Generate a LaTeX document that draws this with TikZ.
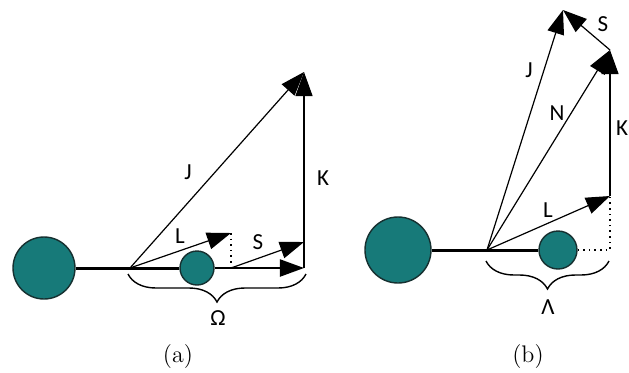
\documentclass[tikz,border=0pt]{standalone}
\usepackage{fontspec}
\newfontfamily\lblfont{Carlito}
\usepackage{xcolor}
\definecolor{mTeal}{HTML}{177A79}
\definecolor{mEdge}{HTML}{163030}
\usetikzlibrary{arrows.meta, decorations.pathreplacing}

\begin{document}
\begin{tikzpicture}[
  x=0.5pt, y=-0.5pt,
  lbl/.style={font=\lblfont\fontsize{11.5}{13}\selectfont, inner sep=0pt},
  subcap/.style={font=\fontsize{12}{14}\selectfont, inner sep=0pt},
  atom/.style={circle, draw=mEdge, line width=0.7pt, fill=mTeal, inner sep=0pt},
  bond/.style={line width=1.5pt},
  vec/.style={-{Triangle[length=12pt, width=8.5pt]}, line width=0.6pt},
  proj/.style={dotted, line width=0.8pt},
  brc/.style={decorate, decoration={brace, amplitude=14pt, mirror}, line width=0.7pt}
]
\useasboundingbox (0,0) rectangle (629,372);
% (a)
\node[atom, minimum size=31pt] (bigA) at (44,268) {};
\node[atom, minimum size=17pt] (smallA) at (197,268) {};
\coordinate (oA) at (130,268);
\coordinate (lA) at (231,233);
\coordinate (fA) at (231,268);
\coordinate (omA) at (304,268);
\coordinate (sA) at (304,242);
\coordinate (kA) at (304,72);
\draw[bond] (bigA.east) -- (oA) -- (smallA.west);
\draw[vec, line width=1pt] (smallA.east) -- (omA);
\draw[vec] (oA) -- (lA);
\draw[proj] (lA) -- (fA);
\draw[vec] (fA) -- (sA);
\draw[vec] (omA) -- (kA);
\draw[vec] (oA) -- (kA);
\draw[brc] (128,274) -- (306,274);
\node[lbl] (lblJa) at (188,172) {J};
\node[lbl] (lblKa) at (323,178) {K};
\node[lbl] (lblLa) at (180,236) {L};
\node[lbl] (lblSa) at (258,242) {S};
\node[lbl] (lblOm) at (218,318) {Ω};
\node[subcap] (capA) at (178,357) {(a)};
% (b)
\node[atom, minimum size=33pt] (bigB) at (398,250) {};
\node[atom, minimum size=19pt] (smallB) at (558,250) {};
\coordinate (oB) at (487,250);
\coordinate (dB) at (610,250);
\coordinate (lB) at (610,196);
\coordinate (kB) at (610,50);
\coordinate (jB) at (563,10);
\draw[bond] (bigB.east) -- (oB) -- (smallB.west);
\draw[proj] (smallB.east) -- (dB) -- (lB);
\draw[vec] (oB) -- (lB);
\draw[vec] (lB) -- (kB);
\draw[vec] (oB) -- (kB);
\draw[vec] (kB) -- (jB);
\draw[vec] (oB) -- (jB);
\draw[brc] (486,261) -- (609,261);
\node[lbl] (lblJb) at (529,70) {J};
\node[lbl] (lblNb) at (557,113) {N};
\node[lbl] (lblKb) at (622,128) {K};
\node[lbl] (lblSb) at (603,24) {S};
\node[lbl] (lblLb) at (548,210) {L};
\node[lbl] (lblLam) at (548,307) {Λ};
\node[subcap] (capB) at (528,357) {(b)};
\end{tikzpicture}
\end{document}
